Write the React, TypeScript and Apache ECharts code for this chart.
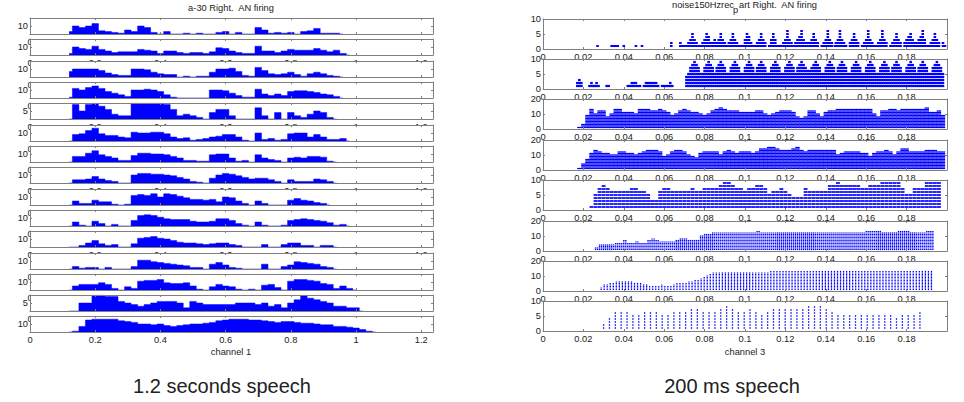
import React, { useEffect, useRef } from "react";
import * as echarts from "echarts";

// ---------- Left panel: firing envelope per channel row, sampled every 0.02 s from 0.12 s ----------
const leftStart = 0.12;
const leftStep = 0.02;
const leftRow1 = [3,10,8,10,13,4,3,2,1,5,3,10,8,2,0,3,0,0,1,0,1,0,0,2,3,0,2,0,0,8,5,1,2,1,2,0,3,4,7,1,1,1,0];
const leftRow2 = [2,10,8,7,11,7,5,3,4,4,4,7,6,5,2,5,5,3,2,3,3,2,4,9,8,5,3,2,2,11,5,5,3,5,7,6,6,6,8,6,4,6,2,0];
const leftRow3 = [7,10,10,10,10,8,5,3,2,2,10,10,9,6,4,3,3,0,1,0,1,1,6,10,10,11,7,2,1,12,8,4,3,4,6,3,1,4,6,4,2,1,0];
const leftRow4 = [1,12,10,13,15,12,8,6,4,2,10,10,11,10,8,4,1,0,0,0,0,0,10,10,9,6,3,1,1,11,5,3,5,3,8,9,9,8,7,5,4,2,0];
const leftRow5 = [0,9,5,9,10,8,6,3,2,2,10,10,10,10,10,9,6,2,3,2,1,0,4,6,6,2,0,0,0,7,2,0,4,0,4,2,1,3,5,4,1,0];
const leftRow6 = [0,8,9,13,16,9,7,7,5,4,11,10,10,11,11,9,5,3,4,1,2,3,5,6,8,8,5,1,0,10,2,3,1,2,9,10,10,5,8,5,2,2,3,0];
const leftRow7 = [0,7,7,11,14,9,7,5,2,2,8,11,11,10,10,9,7,5,2,2,1,1,9,10,10,5,1,2,0,9,5,3,2,0,5,6,5,7,7,6,1,0];
const leftRow8 = [0,4,4,5,8,5,3,2,0,0,10,12,12,11,11,10,9,7,5,2,1,0,6,10,12,11,9,7,5,6,6,4,2,0,4,2,2,2,5,4,2,0];
const leftRow9 = [0,5,2,2,6,4,4,1,0,1,12,13,12,14,10,14,13,11,9,7,7,6,7,4,10,9,5,2,0,5,2,0,0,0,6,8,6,5,3,2,0];
const leftRow10 = [0,5,1,0,6,3,0,2,0,0,7,13,14,13,11,9,8,8,8,6,5,5,6,9,9,7,3,1,0,5,1,0,0,1,7,8,9,8,7,6,4,1,2,0];
const leftRow11 = [0,0,2,5,8,4,2,3,0,0,4,11,12,13,11,10,8,6,5,5,4,3,4,5,5,3,2,0,0,0,3,0,0,3,5,5,2,2,0,2,2,0];
const leftRow12 = [0,3,1,2,2,0,2,0,0,0,3,11,11,9,8,7,6,5,4,2,2,0,6,8,5,2,1,0,0,0,6,0,0,3,5,9,8,7,6,3,2,0];
const leftRow13 = [0,5,7,7,7,9,7,2,0,4,2,11,12,12,13,9,8,8,9,5,1,0,4,7,5,4,1,0,1,0,6,7,3,0,11,13,13,12,11,8,7,2,5,2,0];
const leftRow14 = [0,0,5,5,10,10,9,9,6,5,4,3,4,5,6,6,6,5,2,6,5,4,4,4,4,4,5,5,5,4,5,3,4,2,5,7,10,8,7,6,5,3,3,2,2,0];
const leftRow15 = [0,1,7,15,16,16,16,16,14,13,12,10,10,9,10,8,7,8,9,10,10,11,12,14,15,16,16,16,15,15,14,13,12,13,13,12,11,11,10,9,9,7,7,6,5,3,1,0];
const leftRows = [leftRow1,leftRow2,leftRow3,leftRow4,leftRow5,leftRow6,leftRow7,leftRow8,leftRow9,leftRow10,leftRow11,leftRow12,leftRow13,leftRow14,leftRow15];
const leftMaxes = [20,20,20,20,10,20,20,20,20,20,20,20,20,10,20];

// ---------- Right panel: spike counts per time bin, as [start time, counts] runs ----------
const rightRow1: [number, number[]][] = [
  [0.027,[1]],[0.034,[1,1,1,1]],[0.040,[1]],[0.046,[1]],[0.049,[1]],[0.0635,[2]],[0.068,[2,1]],
  [0.070,[1,1,2,3,5,3,2,1]],[0.078,[1,2,3,5,4,2,2,3,2,3,5,3,2,1]],
  [0.092,[2,3,5,3,2,1]],[0.098,[1,1,3,5,4,2,1]],[0.105,[1,2,3,5,3,2]],[0.112,[1,3,5,3,1]],
  [0.117,[1,1,2,3,6,3,2,1]],[0.125,[2,3,4,6,3,2,2,2,3,5,3,2]],[0.138,[1,2,3,6,3,2]],[0.1445,[1]],
  [0.145,[2,3,6,3,2,1]],[0.152,[2,3,5,3,2]],[0.158,[1,2,3,6,3,2,1]],[0.165,[1,2,3,6,3,2]],
  [0.172,[1,2,3,5,3,2]],[0.179,[2,3,4,5,3,2,2,3,4,6,3,1]],[0.191,[1,2,3,5,3,2]],[0.198,[2,1]],
];
const rightRow2: [number, number[]][] = [
  [0.017,[2,3,2]],[0.023,[1,2,1]],[0.0255,[1,2,1]],[0.0315,[1,1]],[0.042,[1,1,2,2,2,1,1]],
  [0.050,[1,2,2,2,2,2,2,1]],[0.059,[1,1,1,1,2,1]],
  [0.071,[4,5,7,8,9,8,7,5,5,7,8,9,8,7,5,7,8,9,8,7,5,5,7,8,9,8,7,5,5,7,8,9,8,7,5,7,8,9,8,7,5,5,7,8,9,8,7,5,5,7,8,9,8,7,5,7,8,9,8,7,6,6,7,8,9,8,7,5,5,7,8,9,8,7,5,7,8,9,8,7,5,5,7,8,9,8,7,5,5,7,8,9,8,7,5,5,7,8,9,8,7,5,7,8,9,8,7,5,5,7,8,9,8,7,5,7,8,9,8,7,5,5,7,8,9,8,7,5]],
];
const rightRow3: [number, number[]][] = [
  [0.018,[1,3,9,13,10,12,12,8,10,13,13,11,11,11,10,13,13,13,12,12,13,12,11,9,10,12,13,12,11,11,10,9,10,12,13,14,13,12,12,12,11,11,11,11,12,12,10,9,10,11,12,12,12,11,8,7,8,12,12,10,8,11,12,12,13,13,13,13,13,13,13,13,13,10,8,12,12,13,13,12,13,13,13,13,13,13,14,11,11,12,9]],
];
const rightRow4: [number, number[]][] = [
  [0.018,[1,4,7,11,13,12,11,11,10,10,12,12,11,11,10,11,12,13,13,13,12,9,10,12,13,13,12,10,9,8,11,12,12,12,12,10,12,13,12,11,12,12,12,11,12,14,14,15,15,14,13,13,13,14,15,13,12,13,13,13,13,13,13,13,10,11,12,12,12,12,11,11,9,11,12,12,13,12,10,12,14,14,12,12,12,12,13,13,13,12,12]],
];
const rightRow5: [number, number[]][] = [
  [0.024,[1,5,7,8,7,6,6,6,6,6,7,7,6,6,5,3,3,6,7,7,6,6,6,6,6,7,6,6,7,7,7,7,8,9,9,8,7,7,6,7,7,8,8,7,5,6,6,7,6,5,4,4,4,7,6,6,6,6,6,8,8,9,8,8,8,8,8,7,7,8,8,8,9,9,9,9,9,7,5,5,7,7,7,9,9,9,9]],
];
const rightRow6: [number, number[]][] = [
  [0.026,[2,4,4,4,4,5,5,7,5,5,6,5,5,7,8,7,6,6,6,6,7,8,8,7,7,7,10,11,11,12,12,12,12,12,12,12,12,12,12,12,13,12,12,12,12,12,12,12,12,12,12,12,12,12,12,12,12,12,12,12,12,12,12,12,12,12,12,13,13,13,13,12,12,12,12,13,13,13,12,12,12,12,13,13]],
];
const rightRow7: [number, number[]][] = [
  [0.0288,[2,4,4,5,5,6,6,6,6,6,6,5,5,5,4,4,3,3,3,3,4,3,3,3,4,5,5,5,5,6,6,7,7,8,9,10,11,12,12,12,12,12,12,12,12,12,12,12,12,12,12,12,12,12,12,12,13,13,13,13,13,13,13,13,13,13,13,13,13,13,13,13,13,13,13,13,13,13,13,13,13,13,13,13,13,13,13,13,13,13,13,13,13,13,13,13,13,13,13,13,13,13,13,13,13,13,13,13,13,13]],
];
const rightRow8: [number, number[]][] = [
  [0.03,[2,4,6,6,6,5,5,6,6,6,5,5,6,6,6,7,7,6,6,6,7,8,7,6,6,7,6,5,6,7,7,7,7,7,7,8,8,8,7,6,5,5,5,5,5,5,5,5,5,5,4,5,5,5,6]],
];
const rightRows = [rightRow1,rightRow2,rightRow3,rightRow4,rightRow5,rightRow6,rightRow7,rightRow8];
const rightMaxes = [10,10,20,20,10,20,20,10];
const rightSteps = [0.001,0.001,0.002,0.002,0.002,0.001,0.0015,0.0029];
const rightRepeat = [1,1,1,1,1,2,1,1];
const rightDotSizes = [[2.6,2],[2.6,2.2],[4.4,1.25],[4.4,1.25],[3.9,1.7],[1.4,1.2],[1.3,1.2],[1.3,1.5]];

const xTicksLeftMax = 1.236;
const xTicksRightMax = 0.2;
const textColor = "#222222";
const axisColor = "#7f7f7f";
const blue = "#0000ff";
const font = "Liberation Sans";

function App() {
  const ref = useRef<HTMLDivElement>(null);
  useEffect(() => {
    document.body.style.margin = "0";
    const chart = echarts.init(ref.current!, undefined, { renderer: "svg" });
    const grids: any[] = [];
    const xAxis: any[] = [];
    const yAxis: any[] = [];
    const series: any[] = [];
    let z = 2;

    const addPanel = (left: number, width: number, top: number, height: number, xMax: number, interval: number, yMax: number) => {
      const g = grids.length;
      const lineStyle = { color: axisColor, width: 1 };
      const tickStyle = { color: axisColor, width: 1 };
      grids.push({ left, width, top, height, show: true, backgroundColor: "#ffffff", borderWidth: 0, z });
      xAxis.push({
        gridIndex: g, type: "value", min: 0, max: xMax, interval, z: z + 2, position: "bottom",
        axisLine: { show: true, onZero: false, lineStyle }, axisTick: { show: true, inside: true, length: 2, lineStyle: tickStyle },
        axisLabel: { show: true, showMaxLabel: xMax < 1, fontSize: 9.3, color: textColor, fontFamily: font, margin: 3, hideOverlap: false, showMinLabel: true,
          formatter: (v: number) => (v >= xMax ? "" : String(+v.toFixed(3))) },
        splitLine: { show: false },
      });
      xAxis.push({
        gridIndex: g, type: "value", min: 0, max: xMax, interval, z: z + 2, position: "top",
        axisLine: { show: true, onZero: false, lineStyle }, axisTick: { show: true, inside: true, length: 2, lineStyle: tickStyle },
        axisLabel: { show: false }, splitLine: { show: false },
      });
      yAxis.push({
        gridIndex: g, type: "value", min: 0, max: yMax, interval: yMax / 2, z: z + 2, position: "left",
        axisLine: { show: true, onZero: false, lineStyle }, axisTick: { show: true, inside: true, length: 2, lineStyle: tickStyle },
        axisLabel: { show: true, fontSize: 9.3, color: textColor, fontFamily: font, margin: 2, hideOverlap: false }, splitLine: { show: false },
      });
      yAxis.push({
        gridIndex: g, type: "value", min: 0, max: yMax, interval: yMax / 2, z: z + 2, position: "right",
        axisLine: { show: true, onZero: false, lineStyle }, axisTick: { show: true, inside: true, length: 2, lineStyle: tickStyle },
        axisLabel: { show: false }, splitLine: { show: false },
      });
      const axisIndex = g * 2;
      const seriesZ = z + 1;
      z += 4;
      return { axisIndex, seriesZ };
    };

    leftRows.forEach((row, i) => {
      const top = Math.round(18 + i * 21.32);
      const { axisIndex, seriesZ } = addPanel(30, 403, top, 16, xTicksLeftMax, 0.2, leftMaxes[i]);
      series.push({
        type: "line", xAxisIndex: axisIndex, yAxisIndex: axisIndex, z: seriesZ, step: "middle", showSymbol: false,
        lineStyle: { width: 0.5, color: blue }, itemStyle: { color: blue }, areaStyle: { color: blue, opacity: 1 },
        data: row.map((v, k) => [leftStart + k * leftStep, v]),
      });
    });

    rightRows.forEach((runs, i) => {
      const top = Math.round(18.5 + i * 40.4);
      const { axisIndex, seriesZ } = addPanel(543, 404, top, 30, xTicksRightMax, 0.02, rightMaxes[i]);
      const data: number[][] = [];
      runs.forEach(([start, heights]) => {
        heights.forEach((h, k) => {
          for (let r = 0; r < rightRepeat[i]; r++) {
            const x = start + (k * rightRepeat[i] + r) * rightSteps[i];
            for (let lv = 1; lv <= h; lv++) data.push([x, lv]);
          }
        });
      });
      series.push({
        type: "scatter", xAxisIndex: axisIndex, yAxisIndex: axisIndex, z: seriesZ, symbol: "rect", symbolSize: rightDotSizes[i],
        itemStyle: { color: blue, opacity: 1 }, clip: false, data,
      });
    });

    const text = (t: string, x: number, y: number, fontSize: number, align = "center") => ({
      type: "text", x, y, z: 1000,
      style: { text: t, fontSize, fill: textColor, fontFamily: font, align, verticalAlign: "middle" },
    });

    chart.setOption({
      animation: false,
      backgroundColor: "#ffffff",
      grid: grids, xAxis, yAxis, series,
      graphic: [
        text("a-30 Right.  AN firing", 231, 8, 9.3),
        text("noise150Hzrec", 672, 5, 9.3, "left"),
        text("p", 733, 10, 9.3, "left"),
        text("art Right.  AN firing", 739, 5, 9.3, "left"),
        text("channel 1", 231, 352, 9.3),
        text("channel 3", 745, 352, 9.3),
        text("1.2 seconds speech", 222, 386, 20),
        text("200 ms speech", 732, 386, 20),
      ],
    });
    return () => chart.dispose();
  }, []);
  return <div ref={ref} style={{ position: "fixed", left: 0, top: 0, width: 964, height: 402, background: "#fff" }} />;
}

export default App;
